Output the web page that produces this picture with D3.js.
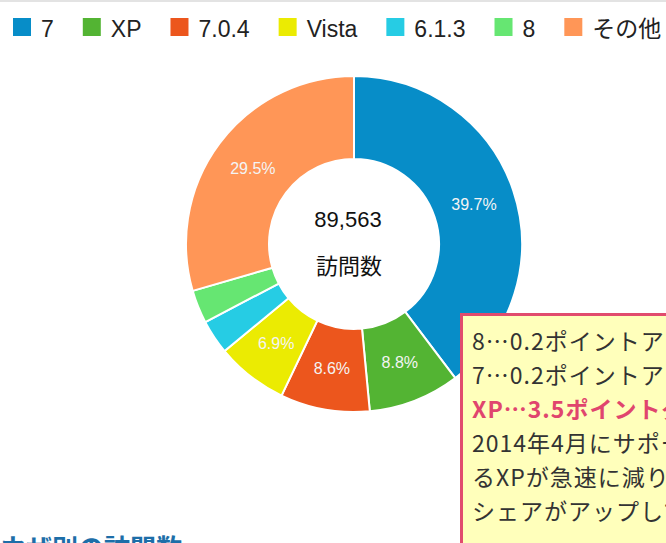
<!DOCTYPE html>
<html lang="ja">
<head>
<meta charset="UTF-8">
<title>OS別の訪問数</title>
<style>
	body { margin: 0; background: #fff; }
	svg { display: block; }
</style>
</head>
<body>
<svg id="cont" width="666" height="543">
	<g id="legend"></g>
	<g id="body"></g>
	<g id="note"></g>
</svg>
<script src="https://cdn.jsdelivr.net/npm/d3@7/dist/d3.min.js"></script>
<script>
	// data
	let osNames = ["7", "XP", "7.0.4", "Vista", "6.1.3", "8", "その他"];
	let shares = [39.7, 8.8, 8.6, 6.9, 3.3, 3.2, 29.5];
	let colors = ["#078dc8", "#53b433", "#ec561d", "#ebeb02", "#26cce4", "#66e672", "#ff9657"];
	let total = "89,563";
	let totalLabel = "訪問数";
	let noteLines = ["8⋯0.2ポイントアップ", "7⋯0.2ポイントアップ", "XP⋯3.5ポイントダウン",
		"2014年4月にサポートが終了す", "るXPが急速に減り、7や8の", "シェアがアップしています。"];
	let noteBold = [false, false, true, false, false, false];
	let nextHeading = "ブラウザ別の訪問数";

	let svg = d3.select("#cont");
	let latin = "'Liberation Sans', Arial, 'Noto Sans CJK JP', sans-serif";
	let jp = "'Noto Sans CJK JP', sans-serif";

	// thin grey rule at the very top
	svg.append("rect").attr("x", 0).attr("y", 0).attr("width", 666).attr("height", 2).attr("fill", "#e3e3e3");

	// legend
	let legend = d3.select("#legend");
	let lx = 13;
	osNames.forEach((n, i) => {
		legend.append("rect")
			.attr("x", lx).attr("y", 18)
			.attr("width", 18).attr("height", 18)
			.attr("fill", colors[i]);
		let t = legend.append("text")
			.attr("x", lx + 28).attr("y", 36.5)
			.attr("font-family", latin)
			.attr("font-size", 23)
			.attr("fill", "#222")
			.text(n);
		lx += 28 + t.node().getComputedTextLength() + 29;
	});

	// donut
	let cx = 354, cy = 244;
	let container = d3.select("#body").attr("transform", "translate(" + cx + "," + cy + ")");
	let pie = d3.pie().sort(null).value(d => d);
	let arc = d3.arc().innerRadius(85).outerRadius(168);
	let slices = pie(shares);

	container.selectAll("path")
		.data(slices)
		.join("path")
		.attr("d", arc)
		.attr("fill", (d, i) => colors[i])
		.attr("stroke", "#fff")
		.attr("stroke-width", 2);

	container.selectAll("text.pct")
		.data(slices.filter(d => d.data > 5))
		.join("text")
		.attr("class", "pct")
		.attr("transform", d => "translate(" + arc.centroid(d) + ")")
		.attr("text-anchor", "middle")
		.attr("dy", "0.36em")
		.attr("font-family", latin)
		.attr("font-size", 16)
		.attr("fill", "#f4f4f4")
		.text(d => d.data.toFixed(1) + "%");

	container.append("text")
		.attr("x", -6).attr("y", -17)
		.attr("text-anchor", "middle")
		.attr("font-family", latin)
		.attr("font-size", 22)
		.attr("fill", "#111")
		.text(total);
	container.append("text")
		.attr("x", -5).attr("y", 30)
		.attr("text-anchor", "middle")
		.attr("font-family", jp)
		.attr("font-size", 22)
		.attr("fill", "#111")
		.text(totalLabel);

	// yellow note box, runs off the right and bottom edge
	let note = d3.select("#note");
	note.append("rect")
		.attr("x", 461.5).attr("y", 314.5)
		.attr("width", 260).attr("height", 260)
		.attr("fill", "#ffffbb")
		.attr("stroke", "#e14b6e")
		.attr("stroke-width", 3);
	note.selectAll("text")
		.data(noteLines)
		.join("text")
		.attr("x", 472)
		.attr("y", (d, i) => 350 + i * 34)
		.attr("font-family", jp)
		.attr("font-size", 23)
		.attr("letter-spacing", 1)
		.attr("font-weight", (d, i) => noteBold[i] ? "bold" : "normal")
		.attr("fill", (d, i) => noteBold[i] ? "#e0456e" : "#333")
		.text(d => d);

	// next section heading, mostly cut off
	svg.append("text")
		.attr("x", -52).attr("y", 558)
		.attr("font-family", jp)
		.attr("font-size", 26)
		.attr("font-weight", "bold")
		.attr("fill", "#1d6ea8")
		.text(nextHeading);
</script>
</body>
</html>
